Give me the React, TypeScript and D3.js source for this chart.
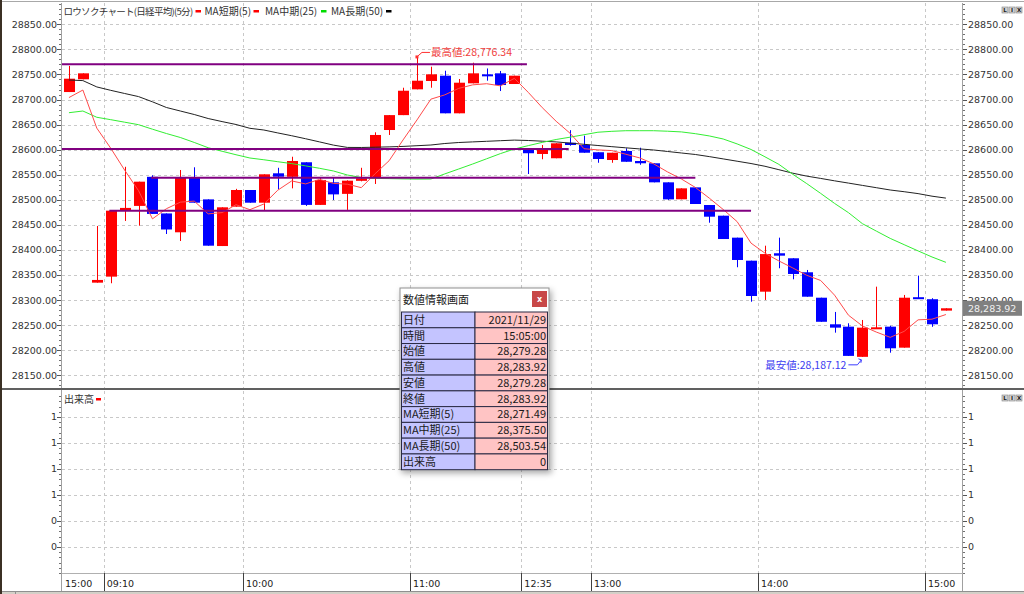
import * as React from "react";
import { scaleLinear, line, format, range, maxIndex, minIndex } from "d3";

// candle time labels (prev day close, morning session, afternoon session)
const times = [
  "15:00",
  "09:00", "09:05", "09:10", "09:15", "09:20", "09:25", "09:30", "09:35", "09:40", "09:45", "09:50", "09:55",
  "10:00", "10:05", "10:10", "10:15", "10:20", "10:25", "10:30", "10:35", "10:40", "10:45", "10:50", "10:55",
  "11:00", "11:05", "11:10", "11:15", "11:20", "11:25", "11:30",
  "12:30", "12:35", "12:40", "12:45", "12:50", "12:55",
  "13:00", "13:05", "13:10", "13:15", "13:20", "13:25", "13:30", "13:35", "13:40", "13:45", "13:50", "13:55",
  "14:00", "14:05", "14:10", "14:15", "14:20", "14:25", "14:30", "14:35", "14:40", "14:45", "14:50", "14:55",
  "15:00", "15:05",
];

const opens = [
  28715, 28740.4, 28335, 28347, 28478, 28488, 28546, 28473, 28435.4, 28544, 28501, 28408, 28486.5,
  28519.7, 28494.4, 28553, 28546, 28575, 28490, 28535, 28512, 28538, 28543, 28639.3, 28669,
  28720.4, 28737, 28747.6, 28672.6, 28732.4, 28750.3, 28752.3, 28731, 28599.5, 28591.5, 28583, 28614, 28609.4,
  28595, 28579.5, 28597.5, 28577.5, 28573, 28535, 28501.2, 28525, 28489.8, 28468.5, 28424.7, 28378.8,
  28317, 28393.6, 28383.6, 28355.7, 28305, 28252, 28247.3, 28187.12, 28245, 28247.3, 28205.4, 28306, 28302, 28279.28,
];
const highs = [
  28767, 28752.3, 28448, 28478.5, 28566, 28536.3, 28549, 28473, 28559.6, 28565, 28501, 28485.2, 28522,
  28519.7, 28551, 28564, 28586, 28575, 28544, 28544, 28539, 28564, 28634.7, 28669, 28723.6,
  28785, 28765.5, 28757.5, 28741, 28773.5, 28762, 28757, 28747.6, 28600, 28609.4, 28613, 28639, 28628,
  28595, 28594, 28602.8, 28604, 28573, 28535, 28523, 28525, 28489.8, 28468.5, 28424.7, 28378.8,
  28408.7, 28424.7, 28383.6, 28360.3, 28305, 28276.6, 28254, 28260.6, 28327, 28249, 28310.5, 28349, 28304, 28283.92,
];
const lows = [
  28715, 28740.4, 28335, 28333.8, 28458, 28448.6, 28472, 28432, 28418, 28494.4, 28408.7, 28408, 28486.5,
  28494.4, 28479.8, 28521, 28523, 28488, 28490, 28499.8, 28480, 28537, 28531.7, 28629.4, 28669,
  28720.4, 28723.6, 28672.6, 28672.6, 28732.4, 28737.6, 28717, 28731, 28551.6, 28581, 28583, 28608, 28594,
  28574, 28574, 28576, 28570, 28535, 28500, 28501.2, 28491.8, 28454.5, 28422, 28365.7, 28297,
  28300.5, 28363.7, 28341.7, 28307, 28257, 28235.3, 28189, 28187.12, 28244, 28195.4, 28205.4, 28304, 28247, 28279.28,
];
const closes = [
  28741.6, 28752.3, 28340.4, 28478.5, 28484, 28536.3, 28472, 28441, 28544.2, 28494.4, 28408.7, 28485.2, 28519.7,
  28494.4, 28551, 28546.2, 28577.5, 28490, 28539.7, 28511, 28538.3, 28543, 28629.4, 28669, 28717.6,
  28737.6, 28750.3, 28672.6, 28733.6, 28752.3, 28749, 28729, 28747.6, 28593, 28601, 28612.8, 28609.4, 28594,
  28581.5, 28594, 28576, 28573, 28535, 28501, 28523, 28491.8, 28466.5, 28422, 28380.2, 28308.4,
  28392, 28388.8, 28352.3, 28307, 28257, 28245.3, 28189, 28245.3, 28246, 28204.2, 28305, 28304, 28252, 28283.92,
];

const ma5 = [
  28704, 28719, 28643, 28603, 28559.4, 28518.3, 28462.2, 28482.4, 28495.5, 28497.6, 28472.1, 28474.7, 28490.4,
  28480.5, 28491.8, 28519.3, 28537.8, 28531.8, 28540.9, 28532.9, 28531.3, 28524.4, 28552.3, 28578.1, 28619.5,
  28659.3, 28700.8, 28709.4, 28722.3, 28729.3, 28731.6, 28727.3, 28742.3, 28714.2, 28683.9, 28656.7, 28632.8, 28602,
  28599.7, 28598.3, 28591, 28583.7, 28571.9, 28555.8, 28541.6, 28524.8, 28503.5, 28480.9, 28456.7, 28413.8,
  28393.8, 28378.3, 28364.3, 28349.7, 28339.4, 28310.1, 28270.1, 28248.7, 28236.5, 28226, 28237.9, 28260.9, 28262.2, 28271.49,
];
const ma25 = [
  28673.8, 28677.2, 28664.7, 28659.9, 28654.9, 28649.9, 28640.9, 28632.3, 28624.4, 28614.5, 28604, 28596.9, 28590,
  28583.5, 28580, 28576.1, 28572.3, 28567.8, 28563, 28557.6, 28549.6, 28544.6, 28542.8, 28542.4, 28541.8,
  28541.4, 28541.6, 28551.8, 28561.6, 28571.5, 28581.9, 28592.3, 28601.4, 28608.2, 28614.6, 28620.4, 28625, 28629.9,
  28634.9, 28636.7, 28637.9, 28637.9, 28637.9, 28636.9, 28635.5, 28632, 28627.5, 28621.4, 28611.6, 28600.5,
  28585.9, 28570.8, 28551, 28532.5, 28513, 28493, 28474.5, 28452.6, 28437.8, 28423.2, 28410.7, 28398.3, 28386.2, 28375.5,
];
const ma50 = [
  28739, 28737.8, 28725.2, 28718.4, 28712.1, 28705.9, 28695.5, 28684.2, 28677.2, 28670.2, 28662.2, 28656.1, 28650.3,
  28642.7, 28639.3, 28633.5, 28627.9, 28621.9, 28615.6, 28609.2, 28604.6, 28604.5, 28605, 28605.7, 28606.6,
  28608, 28609.4, 28612.4, 28614.4, 28615.6, 28616.8, 28618, 28619.2, 28618.4, 28617, 28615.6, 28613.2, 28610.8,
  28608.4, 28606.1, 28603.8, 28601.6, 28599.5, 28596.5, 28593.5, 28590.5, 28586.3, 28581.7, 28577.1, 28572.5,
  28567, 28560.2, 28553.2, 28547.4, 28542.8, 28538, 28533.5, 28528.9, 28524.3, 28519.7, 28516.3, 28512.5, 28507.4, 28503.54,
];
const volumes = [
  0, 0, 0, 0, 0, 0, 0, 0, 0, 0, 0, 0, 0, 0, 0, 0, 0, 0, 0, 0, 0, 0, 0, 0, 0, 0, 0, 0, 0, 0, 0, 0,
  0, 0, 0, 0, 0, 0, 0, 0, 0, 0, 0, 0, 0, 0, 0, 0, 0, 0, 0, 0, 0, 0, 0, 0, 0, 0, 0, 0, 0, 0, 0, 0,
];

// horizontal reference lines: price, first and last slot they cover
const refLevels = [28770.3, 28601.4, 28544.2, 28478.5];
const refFrom = [0, 0, 6.4, 3.4];
const refTo = [33.4, 36.4, 45.5, 49.5];

const priceTicks = [28150, 28200, 28250, 28300, 28350, 28400, 28450, 28500, 28550, 28600, 28650, 28700, 28750, 28800, 28850];
const volumeTicks = [0, 0.25, 0.5, 0.75, 1, 1.25];
const timeTicks = ["15:00", "09:10", "10:00", "11:00", "12:35", "13:00", "14:00", "15:00"];

const tradeDate = "2021/11/29";
const highValue = 28776.34;
const lowValue = 28187.12;

const legendLabels = ["ロウソクチャート(日経平均)(5分)", "MA短期(5)", "MA中期(25)", "MA長期(50)"];
const legendColors = ["#ff0000", "#ff0000", "#00dd00", "#000000"];

// layout
const W = 1024, H = 594;
const PLOT_L = 62, PLOT_R = 963;
const MAIN_T = 3, MAIN_B = 388;
const VOL_T = 391, VOL_B = 573, AXIS_B = 591;
const SLOT = 13.92;
const AXIS_FONT = "'DejaVu Sans', Verdana, sans-serif";
const JP_FONT = "'Noto Sans CJK JP', 'Noto Sans', sans-serif";

const UP = "#ff0000";
const DOWN = "#0000ff";

const fmtAxis = format(".2f");
const fmtVol = format(".0f");
const fmtPrice = format(",.2f");

const Buttons = ({ top }: { top: number }) => (
  <g>
    {["L", "I", "X"].map((t, i) => (
      <g key={t} transform={`translate(${1002 + i * 7},${top})`}>
        <rect width={6} height={6} fill="#d0d0d0" stroke="#808080" strokeWidth={0.6} />
        <text x={3} y={5} fontSize={5.5} fontWeight="bold" textAnchor="middle" fill="#202020" fontFamily={AXIS_FONT}>{t}</text>
      </g>
    ))}
  </g>
);

export default function App() {
  const n = times.length;
  const x = scaleLinear().domain([0, n]).range([PLOT_L, PLOT_L + SLOT * n]);
  const xc = (i: number) => x(i + 0.5);
  const y = scaleLinear().domain([28125, 28892.5]).range([MAIN_B, MAIN_T]);
  const yv = scaleLinear().domain([-0.25, 1.5]).range([VOL_B, VOL_T]);

  // find tick slots in order
  const tickSlots: number[] = [];
  let cursor = 0;
  timeTicks.forEach((t) => {
    const idx = times.indexOf(t, cursor);
    tickSlots.push(idx);
    cursor = idx + 1;
  });

  const maLine = (vals: number[]) =>
    line<number>().x((_, i) => xc(i)).y((v) => y(v))(vals) || "";

  const minorPrice = range(28130, 28892, 10);
  const minorVol = range(-0.25, 1.5, 0.05);

  const last = n - 1;
  const iHigh = maxIndex(highs);
  const iLow = minIndex(lows);
  const hx = xc(iHigh), hy = y(highs[iHigh]);
  const lx = xc(iLow), ly = y(lows[iLow]) + 2;

  const infoLabels = ["日付", "時間", "始値", "高値", "安値", "終値", "MA短期(5)", "MA中期(25)", "MA長期(50)", "出来高"];
  const infoValues = [
    tradeDate,
    `${times[last]}:00`,
    fmtPrice(opens[last]),
    fmtPrice(highs[last]),
    fmtPrice(lows[last]),
    fmtPrice(closes[last]),
    fmtPrice(ma5[last]),
    fmtPrice(ma25[last]),
    fmtPrice(ma50[last]),
    String(volumes[last]),
  ];
  const boxX = 400, boxY = 288, boxW = 149, titleH = 24, rowH = 15.77, splitX = 475;

  const legendX = [63.5, 204.5, 265, 331];
  const legendW = [129, 46, 53, 52];

  return (
    <div style={{ position: "fixed", left: 0, top: 0 }}>
      <svg width={W} height={H} style={{ display: "block", background: "#fff" }}>
        <defs>
          <clipPath id="mainClip">
            <rect x={PLOT_L} y={MAIN_T} width={PLOT_R - PLOT_L} height={MAIN_B - MAIN_T} />
          </clipPath>
          <filter id="shadow" x="-20%" y="-20%" width="140%" height="140%">
            <feDropShadow dx={2} dy={3} stdDeviation={3} floodColor="#000" floodOpacity={0.35} />
          </filter>
        </defs>

        {/* window chrome */}
        <rect x={0} y={0} width={W} height={H} fill="#fff" />
        <line x1={0} x2={W} y1={1.5} y2={1.5} stroke="#a8a8a8" />
        <rect x={0} y={0} width={2} height={H} fill="#3b3024" />

        {/* main panel grid */}
        {priceTicks.map((t) => (
          <line key={`hg${t}`} x1={PLOT_L} x2={PLOT_R} y1={Math.round(y(t)) + 0.5} y2={Math.round(y(t)) + 0.5}
            stroke="#c8c8c8" strokeDasharray="3,3" />
        ))}
        {volumeTicks.map((t) => (
          <line key={`vg${t}`} x1={PLOT_L} x2={PLOT_R} y1={Math.round(yv(t)) + 0.5} y2={Math.round(yv(t)) + 0.5}
            stroke="#c8c8c8" strokeDasharray="3,3" />
        ))}
        {tickSlots.filter((s) => s > 0).map((s) => (
          <g key={`vgx${s}`}>
            <line x1={Math.round(x(s)) + 0.5} x2={Math.round(x(s)) + 0.5} y1={MAIN_T} y2={MAIN_B}
              stroke="#c8c8c8" strokeDasharray="3,3" />
            <line x1={Math.round(x(s)) + 0.5} x2={Math.round(x(s)) + 0.5} y1={VOL_T} y2={VOL_B}
              stroke="#c8c8c8" strokeDasharray="3,3" />
          </g>
        ))}

        {/* candles */}
        <g clipPath="url(#mainClip)">
          {times.map((t, i) => {
            const o = opens[i], c = closes[i];
            const col = c >= o ? UP : DOWN;
            const cx = Math.round(xc(i)) + 0.5;
            const top = y(Math.max(o, c));
            const h = Math.max(2, Math.abs(y(o) - y(c)));
            return (
              <g key={`c${i}`}>
                <line x1={cx} x2={cx} y1={y(highs[i])} y2={y(lows[i])} stroke={col} strokeWidth={1} />
                <rect x={cx - 5.5} y={top} width={11} height={h} fill={col} />
              </g>
            );
          })}

          {/* moving averages */}
          <path d={maLine(ma50)} fill="none" stroke="#222" strokeWidth={1} />
          <path d={maLine(ma25)} fill="none" stroke="#33ee33" strokeWidth={1} />
          <path d={maLine(ma5)} fill="none" stroke="#ff4a4a" strokeWidth={1} />

          {/* reference lines */}
          {refLevels.map((v, i) => (
            <line key={`rl${i}`} x1={x(refFrom[i])} x2={x(refTo[i])} y1={y(v)} y2={y(v)} stroke="#800080" strokeWidth={2} />
          ))}
        </g>

        {/* high / low annotations */}
        <rect x={hx - 1.5} y={hy - 1.5} width={3} height={3} fill="#ff3030" />
        <path d={`M${hx + 1},${hy - 1} L${hx + 5},${hy - 4.5} L${hx + 13},${hy - 4.5}`} fill="none" stroke="#ff3030" />
        <text x={hx + 14} y={hy - 4.5} dy="0.35em" fontSize={10.5} fill="#f03c3c" fontFamily={JP_FONT}>
          {`最高値:${fmtPrice(highValue)}`}
        </text>
        <path d={`M${lx - 1},${ly + 1} L${lx - 5},${ly + 6} L${lx - 14},${ly + 6}`} fill="none" stroke="#3c3cff" />
        <path d={`M${lx - 4},${ly} L${lx - 1},${ly + 1} L${lx - 1.5},${ly + 4}`} fill="none" stroke="#3c3cff" />
        <text x={lx - 16} y={ly + 6} dy="0.35em" fontSize={10.5} textAnchor="end" fill="#3c3cf0" fontFamily={JP_FONT}>
          {`最安値:${fmtPrice(lowValue)}`}
        </text>

        {/* legend */}
        {legendLabels.map((l, i) => (
          <g key={l}>
            <text x={legendX[i]} y={15} fontSize={i === 0 ? 9.5 : 10} letterSpacing={i === 0 ? -0.7 : 0}
              fill="#333" fontFamily={JP_FONT}>{l}</text>
            <rect x={legendX[i] + legendW[i] + 3} y={10} width={5.5} height={2.5} fill={legendColors[i]} />
          </g>
        ))}
        <Buttons top={7} />

        {/* axes lines */}
        <line x1={PLOT_L - 0.5} x2={PLOT_L - 0.5} y1={MAIN_T} y2={AXIS_B} stroke="#a0a0a0" />
        <line x1={PLOT_R - 0.5} x2={PLOT_R - 0.5} y1={MAIN_T} y2={AXIS_B} stroke="#a0a0a0" />

        {/* price axis both sides */}
        {minorPrice.map((t) => (
          <g key={`mp${t}`}>
            <line x1={PLOT_L - 3} x2={PLOT_L - 1} y1={Math.round(y(t)) + 0.5} y2={Math.round(y(t)) + 0.5} stroke="#707070" />
            <line x1={PLOT_R} x2={PLOT_R + 2} y1={Math.round(y(t)) + 0.5} y2={Math.round(y(t)) + 0.5} stroke="#707070" />
          </g>
        ))}
        {priceTicks.map((t) => (
          <g key={`pt${t}`} fontFamily={AXIS_FONT} fontSize={9.5} fill="#333">
            <line x1={PLOT_L - 5} x2={PLOT_L - 1} y1={Math.round(y(t)) + 0.5} y2={Math.round(y(t)) + 0.5} stroke="#555" />
            <line x1={PLOT_R} x2={PLOT_R + 4} y1={Math.round(y(t)) + 0.5} y2={Math.round(y(t)) + 0.5} stroke="#555" />
            <text x={PLOT_L - 5} y={y(t)} dy="0.35em" textAnchor="end">{fmtAxis(t)}</text>
            <text x={PLOT_R + 5} y={y(t)} dy="0.35em">{fmtAxis(t)}</text>
          </g>
        ))}
        {/* last price tag */}
        <rect x={PLOT_R} y={y(closes[last]) - 7.5} width={59} height={15} fill="#808080" />
        <text x={PLOT_R + 5} y={y(closes[last])} dy="0.35em" fontSize={9.5} fill="#f0f0f0" fontFamily={AXIS_FONT}>
          {fmtPrice(closes[last])}
        </text>

        {/* panel separator */}
        <rect x={2} y={388} width={W - 2} height={2} fill="#606060" />

        {/* volume panel */}
        <text x={64} y={402.5} fontSize={10} fill="#333" fontFamily={JP_FONT}>出来高</text>
        <rect x={96} y={398} width={5} height={2.5} fill="#ff0000" />
        <Buttons top={395} />
        {minorVol.map((t, i) => (
          <g key={`mv${i}`}>
            <line x1={PLOT_L - 3} x2={PLOT_L - 1} y1={Math.round(yv(t)) + 0.5} y2={Math.round(yv(t)) + 0.5} stroke="#707070" />
            <line x1={PLOT_R} x2={PLOT_R + 2} y1={Math.round(yv(t)) + 0.5} y2={Math.round(yv(t)) + 0.5} stroke="#707070" />
          </g>
        ))}
        {volumeTicks.map((t) => (
          <g key={`vt${t}`} fontFamily={AXIS_FONT} fontSize={9.5} fill="#333">
            <line x1={PLOT_L - 5} x2={PLOT_L - 1} y1={Math.round(yv(t)) + 0.5} y2={Math.round(yv(t)) + 0.5} stroke="#555" />
            <line x1={PLOT_R} x2={PLOT_R + 4} y1={Math.round(yv(t)) + 0.5} y2={Math.round(yv(t)) + 0.5} stroke="#555" />
            <text x={PLOT_L - 5} y={yv(t)} dy="0.35em" textAnchor="end">{fmtVol(t)}</text>
            <text x={PLOT_R + 5} y={yv(t)} dy="0.35em">{fmtVol(t)}</text>
          </g>
        ))}
        {volumes.map((v, i) => v > 0 ? (
          <rect key={`v${i}`} x={xc(i) - 5.5} y={yv(v)} width={11} height={yv(0) - yv(v)} fill="#4040ff" />
        ) : null)}

        {/* time axis */}
        <line x1={PLOT_L} x2={PLOT_R} y1={VOL_B + 0.5} y2={VOL_B + 0.5} stroke="#b0b0b0" />
        {tickSlots.map((s, i) => (
          <g key={`tt${i}`}>
            {s > 0 && (
              <line x1={Math.round(x(s)) + 0.5} x2={Math.round(x(s)) + 0.5} y1={VOL_B} y2={AXIS_B} stroke="#404040" />
            )}
            <text x={x(s) + 3} y={586.5} fontSize={9.5} fill="#222" fontFamily={AXIS_FONT}>{timeTicks[i]}</text>
          </g>
        ))}
        <rect x={2} y={AXIS_B} width={W - 2} height={H - AXIS_B} fill="#d4d0c8" />
        <line x1={2} x2={W} y1={AXIS_B + 0.5} y2={AXIS_B + 0.5} stroke="#909090" />
        <line x1={15.5} x2={15.5} y1={AXIS_B} y2={H} stroke="#909090" />

        {/* info window */}
        <g filter="url(#shadow)">
          <rect x={boxX} y={boxY} width={boxW} height={titleH + rowH * infoLabels.length} fill="#fff" stroke="#909090" />
        </g>
        <text x={boxX + 3} y={boxY + 15.5} fontSize={11} fill="#222" fontFamily={JP_FONT}>数値情報画面</text>
        <rect x={532} y={boxY + 3} width={15} height={16} fill="#c84848" />
        <text x={539.5} y={boxY + 14} fontSize={8} fontWeight="bold" textAnchor="middle" fill="#fff" fontFamily={AXIS_FONT}>x</text>
        {infoLabels.map((l, i) => {
          const ry = boxY + titleH + i * rowH;
          return (
            <g key={l} fontFamily={JP_FONT} fontSize={11} fill="#1a1a1a">
              <rect x={boxX + 1.5} y={ry} width={splitX - boxX - 1.5} height={rowH} fill="#c4c4ff" stroke="#2a2a44" strokeWidth={1} />
              <rect x={splitX} y={ry} width={boxX + boxW - 1.5 - splitX} height={rowH} fill="#ffc4c4" stroke="#2a2a44" strokeWidth={1} />
              <text x={boxX + 3} y={ry + rowH / 2} dy="0.36em">{l}</text>
              <text x={boxX + boxW - 3} y={ry + rowH / 2} dy="0.36em" textAnchor="end">{infoValues[i]}</text>
            </g>
          );
        })}
      </svg>
    </div>
  );
}
